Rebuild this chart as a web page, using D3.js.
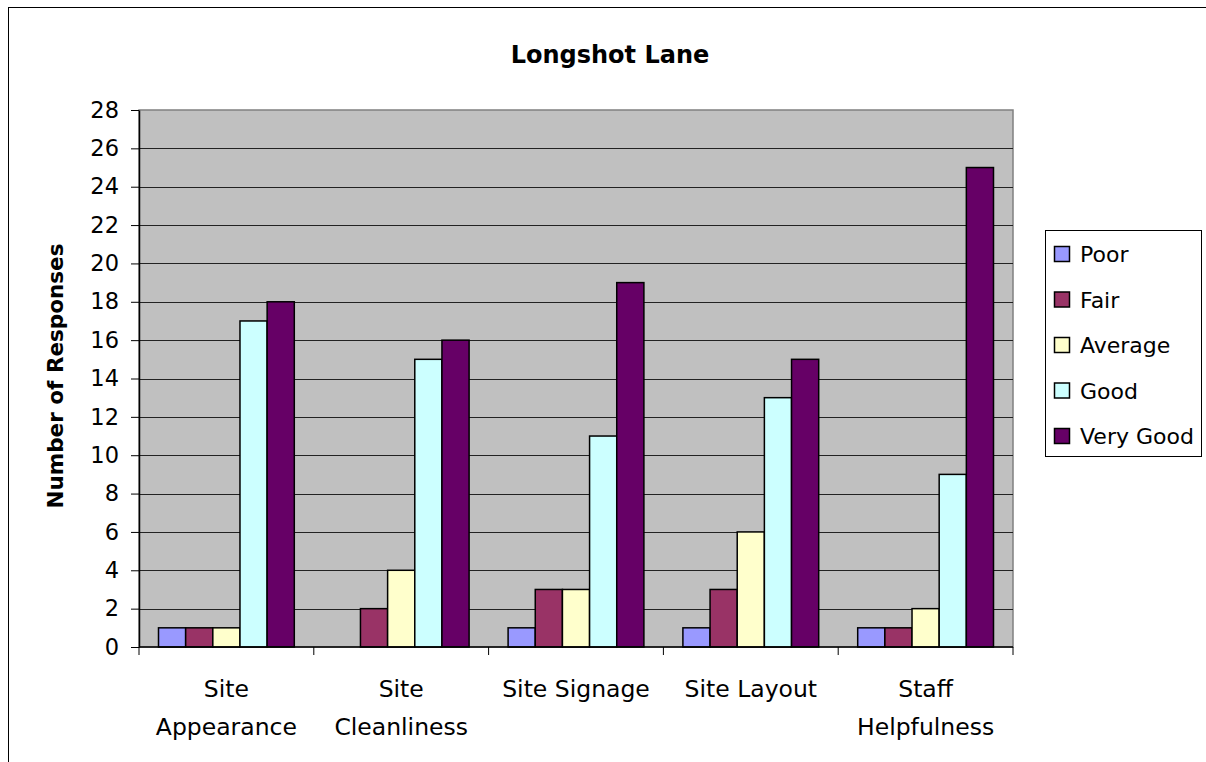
<!DOCTYPE html>
<html>
<head>
<meta charset="utf-8">
<script src="https://cdn.jsdelivr.net/npm/d3@7"></script>
<style>
  html, body { margin: 0; padding: 0; background: #fff; }
  svg { display: block; font-family: "DejaVu Sans", sans-serif; }
</style>
</head>
<body>
<svg id="chart" width="1206" height="762"></svg>
<script>
// Survey results for Longshot Lane
const categories = [["Site", "Appearance"], ["Site", "Cleanliness"], ["Site Signage"], ["Site Layout"], ["Staff", "Helpfulness"]];
const seriesNames = ["Poor", "Fair", "Average", "Good", "Very Good"];
const seriesColors = ["#9999FF", "#993366", "#FFFFCC", "#CCFFFF", "#660066"];
const poor      = [1, 0, 1, 1, 1];
const fair      = [1, 2, 3, 3, 1];
const average   = [1, 4, 3, 6, 2];
const good      = [17, 15, 11, 13, 9];
const veryGood  = [18, 16, 19, 15, 25];
const yTicks = d3.range(0, 29, 2);

const seriesValues = [poor, fair, average, good, veryGood];

const svg = d3.select("#chart");
const plot = { left: 139, top: 110, right: 1013, bottom: 647 };

// outer chart frame (only top and left edges fall inside the view)
svg.append("rect")
  .attr("x", 8.5).attr("y", 7.5)
  .attr("width", 1300).attr("height", 900)
  .attr("fill", "none").attr("stroke", "#000").attr("stroke-width", 1);

const catIdx = d3.range(categories.length);
const x0 = d3.scaleBand().domain(catIdx).range([plot.left, plot.right]).paddingInner(0).paddingOuter(0);
const gap = 39;
const x1 = d3.scaleBand().domain(seriesNames).range([gap / 2, x0.bandwidth() - gap / 2]);
const y = d3.scaleLinear().domain([0, 28]).range([plot.bottom, plot.top]);

// plot background
svg.append("rect")
  .attr("x", plot.left).attr("y", plot.top)
  .attr("width", plot.right - plot.left).attr("height", plot.bottom - plot.top)
  .attr("fill", "#C0C0C0").attr("stroke", "#808080").attr("stroke-width", 1.5);

// horizontal gridlines
svg.append("g")
  .selectAll("line")
  .data(yTicks.filter(t => t > 0 && t < 28))
  .join("line")
  .attr("x1", plot.left).attr("x2", plot.right)
  .attr("y1", d => Math.round(y(d)) + 0.5).attr("y2", d => Math.round(y(d)) + 0.5)
  .attr("stroke", "#222").attr("stroke-width", 1);

// bars
const groups = svg.append("g")
  .selectAll("g")
  .data(catIdx)
  .join("g")
  .attr("transform", i => `translate(${x0(i)},0)`);

groups.selectAll("rect")
  .data(i => seriesNames.map((s, k) => ({ s, k, v: seriesValues[k][i] })).filter(d => d.v > 0))
  .join("rect")
  .attr("x", d => x1(d.s))
  .attr("y", d => y(d.v))
  .attr("width", x1.bandwidth())
  .attr("height", d => y(0) - y(d.v))
  .attr("fill", d => seriesColors[d.k])
  .attr("stroke", "#000").attr("stroke-width", 1.5);

// y axis
const yAxis = svg.append("g")
  .attr("transform", `translate(${plot.left},0)`)
  .call(d3.axisLeft(y).tickValues(yTicks).tickSize(8).tickPadding(12).tickSizeOuter(0));
yAxis.select(".domain").attr("stroke", "#000").attr("stroke-width", 1.5);
yAxis.selectAll(".tick line").attr("stroke", "#000");
yAxis.selectAll(".tick text")
  .attr("font-size", 22.5).attr("fill", "#000")
  .attr("font-family", "DejaVu Sans, sans-serif");

// x axis
const xAxis = svg.append("g")
  .attr("transform", `translate(0,${plot.bottom})`);
xAxis.append("line")
  .attr("x1", plot.left).attr("x2", plot.right)
  .attr("stroke", "#000").attr("stroke-width", 1.5);
xAxis.selectAll(".xt")
  .data(d3.range(categories.length + 1))
  .join("line")
  .attr("class", "xt")
  .attr("x1", i => i < categories.length ? x0(i) : plot.right)
  .attr("x2", i => i < categories.length ? x0(i) : plot.right)
  .attr("y1", 0).attr("y2", 8)
  .attr("stroke", "#000");

const xLabels = xAxis.selectAll(".xl")
  .data(catIdx)
  .join("text")
  .attr("class", "xl")
  .attr("text-anchor", "middle")
  .attr("font-size", 23.5)
  .attr("fill", "#000");
xLabels.selectAll("tspan")
  .data(i => categories[i].map(line => ({ i, line })))
  .join("tspan")
  .attr("x", d => x0(d.i) + x0.bandwidth() / 2)
  .attr("y", (d, j) => 50 + j * 38)
  .text(d => d.line);

// title
svg.append("text")
  .attr("x", 610).attr("y", 63)
  .attr("text-anchor", "middle")
  .attr("font-size", 24).attr("font-weight", "bold")
  .text("Longshot Lane");

// y axis title
svg.append("text")
  .attr("transform", "translate(63,376) rotate(-90)")
  .attr("text-anchor", "middle")
  .attr("font-size", 21.5).attr("font-weight", "bold")
  .text("Number of Responses");

// legend
const legend = svg.append("g");
legend.append("rect")
  .attr("x", 1045.5).attr("y", 230.5)
  .attr("width", 156).attr("height", 226)
  .attr("fill", "#fff").attr("stroke", "#000").attr("stroke-width", 1);
const items = legend.selectAll(".li")
  .data(seriesNames)
  .join("g")
  .attr("class", "li")
  .attr("transform", (d, k) => `translate(1054,${254 + k * 45.5})`);
items.append("rect")
  .attr("x", 0.5).attr("y", -7.5)
  .attr("width", 15).attr("height", 15)
  .attr("fill", (d, k) => seriesColors[k])
  .attr("stroke", "#000").attr("stroke-width", 1.5);
items.append("text")
  .attr("x", 26).attr("y", 8)
  .attr("font-size", 22)
  .text(d => d);
</script>
</body>
</html>
